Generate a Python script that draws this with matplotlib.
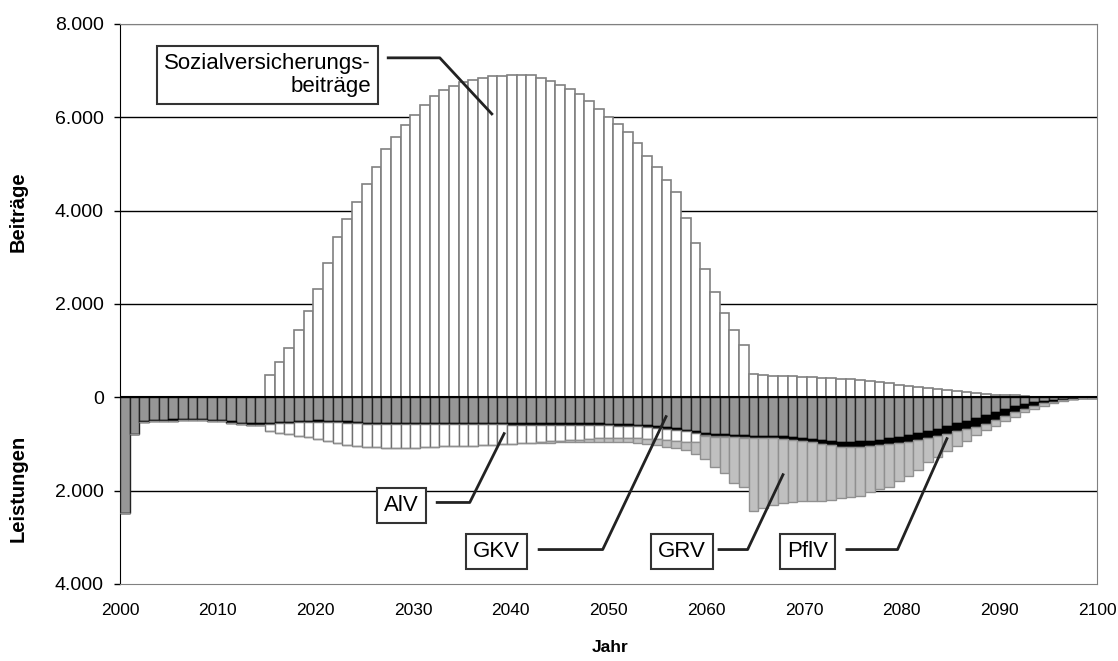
import numpy as np
import matplotlib
matplotlib.use('Agg')
import matplotlib.pyplot as plt

plt.rcParams['font.family'] = ['Liberation Sans', 'DejaVu Sans']

years = np.arange(2000, 2101)

# Beiträge (positiv)
sv = [0] * 15 + [
    470, 760, 1065, 1445, 1850, 2330, 2880, 3440, 3820, 4185,
    4570, 4945, 5330, 5580, 5830, 6060, 6270, 6460, 6575, 6665,
    6760, 6800, 6840, 6875, 6895, 6910, 6915, 6915, 6850, 6780,
    6695, 6605, 6500, 6350, 6185, 6015, 5860, 5690, 5440, 5180,
    4930, 4665, 4405, 3850, 3300, 2750, 2250, 1810, 1450, 1120,
    510, 480, 465, 455, 450, 435, 430, 420, 410, 400,
    390, 375, 360, 322, 300, 272, 250, 229, 200, 172,
    150, 129, 107, 86, 72, 57, 50, 43, 29, 14,
    5, 3, 2, 1, 0, 0]

# Leistungen (Beträge, nach unten gestapelt: GKV, PflV, AlV, GRV)
gkv = [2470, 780, 505, 485, 478, 472, 466, 465, 470, 478,
       486, 515, 544, 558, 558, 544, 530, 522, 508, 500,
       494, 500, 508, 515, 530, 540, 548, 550, 552, 552,
       552, 552, 552, 552, 552, 552, 552, 552, 552, 552,
       552, 552, 552, 552, 555, 555, 555, 558, 558, 560,
       565, 570, 580, 590, 600, 620, 640, 660, 690, 720,
       760, 780, 790, 800, 810, 820, 820, 820, 830, 850,
       870, 890, 920, 940, 966, 950, 945, 930, 908, 873,
       844, 808, 773, 730, 680, 622, 558, 500, 444, 372,
       322, 250, 193, 143, 107, 72, 50, 30, 20, 10,
       5]
pflv = [0, 0, 25, 25, 25, 25, 25, 25, 25, 25,
        25, 25, 25, 25, 25, 25, 25, 25, 25, 25,
        25, 25, 25, 25, 28, 28, 28, 28, 28, 28,
        30, 30, 30, 30, 30, 30, 30, 30, 30, 30,
        32, 32, 32, 32, 32, 32, 32, 32, 32, 32,
        35, 35, 35, 35, 35, 35, 35, 35, 38, 38,
        40, 40, 45, 45, 45, 45, 50, 50, 55, 60,
        65, 70, 80, 90, 107, 115, 115, 114, 115, 128,
        129, 143, 143, 143, 143, 165, 172, 180, 185, 200,
        164, 143, 129, 107, 72, 57, 40, 25, 15, 8,
        4]
alv = [0] * 15 + [
    161, 210, 240, 290, 333, 375, 419, 454, 476, 479,
    491, 497, 509, 514, 514, 505, 490, 477, 469, 469,
    462, 455, 441, 434, 419, 410, 396, 389, 374, 357,
    343, 329, 318, 305, 290, 280, 270, 262, 255, 250,
    245, 240, 235, 230, 200, 30, 25, 20, 15, 10,
    0, 0, 0, 0, 0, 0, 0, 0, 0, 0,
    0, 0, 0, 0, 0, 0, 0, 0, 0, 0,
    0, 0, 0, 0, 0, 0, 0, 0, 0, 0,
    0, 0, 0, 0, 0, 0]
grv = [0] * 43 + [
    15, 25, 35, 45, 55, 60, 70, 75, 80, 85,
    95, 105, 120, 140, 160, 180, 250, 493, 657, 776,
    985, 1052, 1567, 1512, 1433, 1375, 1329, 1297, 1272, 1217,
    1166, 1087, 1081, 1050, 995, 944, 916, 815, 730, 643,
    522, 465, 357, 307, 250, 179, 129, 122, 122, 93,
    72, 71, 50, 30, 20, 10, 5, 0]

tick_years = list(range(2000, 2101, 10))
ytick_vals = [-4000, -2000, 0, 2000, 4000, 6000, 8000]
ytick_labels = ['4.000', '2.000', '0', '2.000', '4.000', '6.000', '8.000']

sv = np.array(sv)
gkv = -np.array(gkv)
pflv = -np.array(pflv)
alv = -np.array(alv)
grv = -np.array(grv)

fig = plt.figure(figsize=(11.18, 6.61), dpi=100)
ax = fig.add_axes([0.1073, 0.1165, 0.8740, 0.8472])

x = years - 2000
w = 1.0
ax.bar(x, sv, w, align='edge', color='white', edgecolor='#808080', lw=1.2, zorder=3)
ax.bar(x, gkv, w, align='edge', color='#969696', edgecolor='#222222', lw=1.0, zorder=3)
ax.bar(x, pflv, w, bottom=gkv, align='edge', color='black', edgecolor='black', lw=1.0, zorder=3)
b2 = gkv + pflv
ax.bar(x, alv, w, bottom=b2, align='edge', color='white', edgecolor='#707070', lw=1.0, zorder=3)
b3 = b2 + alv
ax.bar(x, grv, w, bottom=b3, align='edge', color='#c0c0c0', edgecolor='#909090', lw=1.0, zorder=3)

ax.set_xlim(0, 101)
ax.set_ylim(-4000, 8000)
ax.set_xticks(np.linspace(0, 101, 11))
ax.set_xticklabels([str(t) for t in tick_years], fontsize=12.5)
ax.tick_params(axis='x', length=0, pad=14)
ax.set_yticks(ytick_vals)
ax.set_yticklabels(ytick_labels, fontsize=14)
ax.tick_params(axis='y', length=4.5, direction='out', width=1, pad=7)

for yv in [-2000, 2000, 4000, 6000, 8000]:
    ax.axhline(yv, color='black' if yv != 8000 else '#808080', lw=1.0, zorder=1)
ax.axhline(0, color='black', lw=1.5, zorder=4)

for s in ['top', 'right', 'bottom']:
    ax.spines[s].set_color('#808080')
ax.spines['left'].set_color('black')

fig.text(610 / 1118, 1 - 647 / 661, 'Jahr', fontsize=12.5, fontweight='bold',
         ha='center', va='center')
fig.text(0.016, 1 - 212 / 661, 'Beiträge', rotation=90, fontsize=14.5,
         fontweight='bold', ha='center', va='center')
fig.text(0.016, 1 - 488 / 661, 'Leistungen', rotation=90, fontsize=14.5,
         fontweight='bold', ha='center', va='center')


def px2data(px, py):
    return (px - 120) / 9.68, (397 - py) / 46.6 * 1000


def label(txt, box_xy, pts, ha='center'):
    bx, by = px2data(*box_xy)
    ax.text(bx, by, txt, fontsize=16, ha=ha, va='center', zorder=6,
            linespacing=1.1,
            bbox=dict(boxstyle='square,pad=0.32', fc='white', ec='#333333', lw=1.5))
    xs, ys = zip(*[px2data(*p) for p in pts])
    ax.plot(xs, ys, color='#222222', lw=2, zorder=6, solid_capstyle='butt')


label('Sozialversicherungs-\nbeiträge', (371, 75),
      [(387, 58), (440, 58), (493, 115)], ha='right')
label('AlV', (402, 505), [(436, 502), (470, 502), (505, 432)])
label('GKV', (497, 551), [(538, 549), (603, 549), (667, 415)])
label('GRV', (682, 551), [(718, 549), (748, 549), (784, 473)])
label('PflV', (808, 551), [(846, 549), (898, 549), (948, 437)])

fig.savefig('out.png', dpi=100)
